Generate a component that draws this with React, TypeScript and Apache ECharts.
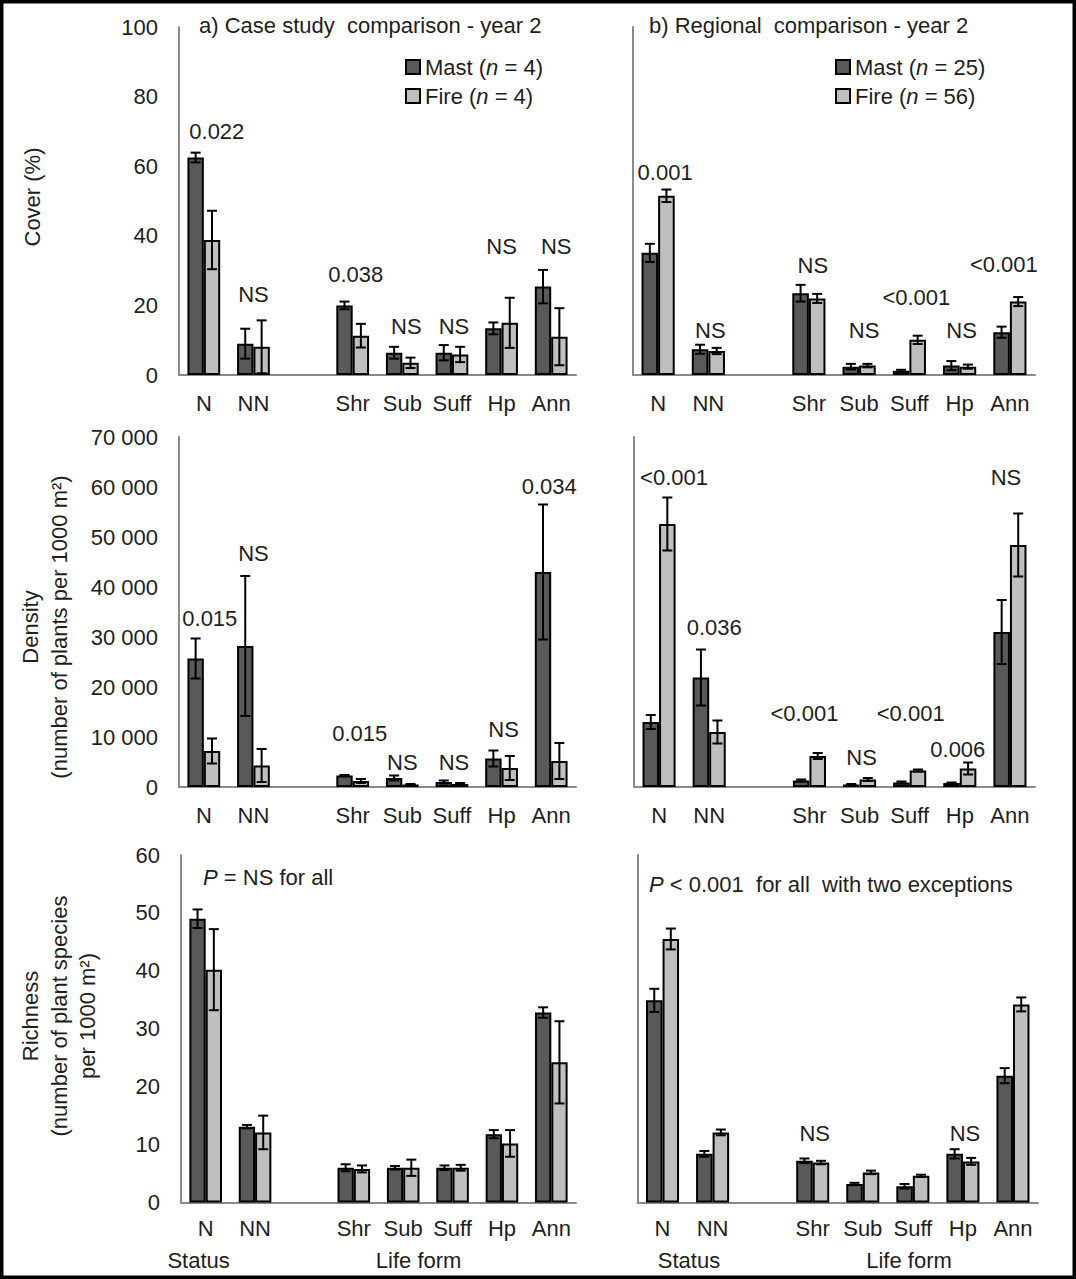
import React, { useEffect, useRef } from 'react';
import * as echarts from 'echarts';

const FONT = '"Liberation Sans", Arial, Helvetica, sans-serif';
const TEXT = '#1e1e1e';
const AXIS = '#8a8a8a';
const MAST_COLOR = '#595959';
const FIRE_COLOR = '#bfbfbf';

// ---------- data ----------
const categories = ['N', 'NN', '', 'Shr', 'Sub', 'Suff', 'Hp', 'Ann'];

// Cover (%) – case study
const coverCaseMast = [62.5, 9.0, null, 20.0, 6.4, 6.4, 13.4, 25.4];
const coverCaseMastSE = [1.4, 4.3, null, 1.1, 1.7, 2.2, 1.7, 4.8];
const coverCaseFire = [38.8, 8.1, null, 11.3, 3.5, 5.9, 15.0, 11.0];
const coverCaseFireSE = [8.4, 7.6, null, 3.4, 1.5, 2.2, 7.2, 8.2];
const coverCaseP = ['0.022', 'NS', null, '0.038', 'NS', 'NS', 'NS', 'NS'];
const coverCasePY = [70.1, 23.0, null, 29.0, 13.8, 13.8, 36.8, 36.8];

// Cover (%) – regional
const coverRegMast = [35.1, 7.4, null, 23.5, 2.4, 1.2, 2.7, 12.3];
const coverRegMastSE = [2.6, 1.3, null, 2.4, 0.8, 0.3, 1.3, 1.6];
const coverRegFire = [51.5, 6.9, null, 22.0, 2.7, 10.1, 2.4, 21.1];
const coverRegFireSE = [1.8, 0.9, null, 1.3, 0.5, 1.2, 0.6, 1.3];
const coverRegP = ['0.001', 'NS', null, 'NS', 'NS', '<0.001', 'NS', '<0.001'];
const coverRegPY = [58.1, 12.9, null, 31.6, 12.9, 22.2, 12.9, 31.8];

// Density – case study
const densCaseMast = [25700, 28200, null, 2300, 1800, 1000, 5700, 43000];
const densCaseMastSE = [4000, 14000, null, 100, 500, 300, 1600, 13500];
const densCaseFire = [7200, 4300, null, 1200, 500, 600, 3800, 5200];
const densCaseFireSE = [2500, 3300, null, 400, 100, 200, 2400, 3600];
const densCaseP = ['0.015', 'NS', null, '0.015', 'NS', 'NS', 'NS', '0.034'];
const densCasePY = [33800, 46700, null, 10700, 5000, 5000, 11500, 60200];

// Density – regional
const densRegMast = [13000, 21900, null, 1300, 500, 900, 800, 31000];
const densRegMastSE = [1400, 5600, null, 200, 100, 200, 100, 6400];
const densRegFire = [52600, 11000, null, 6200, 1500, 3300, 3700, 48400];
const densRegFireSE = [5300, 2300, null, 600, 300, 200, 1200, 6300];
const densRegP = ['<0.001', '0.036', null, '<0.001', 'NS', '<0.001', '0.006', 'NS'];
const densRegPY = [62000, 31900, null, 14700, 5900, 14700, 7500, 61900];

// Richness – case study
const richCaseMast = [49.0, 13.1, null, 6.0, 6.0, 6.0, 11.8, 32.8];
const richCaseMastSE = [1.6, 0.3, null, 0.6, 0.3, 0.4, 0.7, 0.9];
const richCaseFire = [40.2, 12.1, null, 5.8, 6.0, 6.0, 10.2, 24.2];
const richCaseFireSE = [7.0, 2.9, null, 0.6, 1.4, 0.5, 2.3, 7.1];
const richCaseP = [null, null, null, null, null, null, null, null];
const richCasePY = [null, null, null, null, null, null, null, null];

// Richness – regional
const richRegMast = [34.9, 8.4, null, 7.2, 3.2, 2.8, 8.4, 21.9];
const richRegMastSE = [2.0, 0.5, null, 0.4, 0.2, 0.4, 0.8, 1.3];
const richRegFire = [45.5, 12.1, null, 6.9, 5.2, 4.6, 7.1, 34.2];
const richRegFireSE = [1.8, 0.5, null, 0.3, 0.3, 0.2, 0.6, 1.2];
const richRegP = [null, null, null, 'NS', null, null, 'NS', null];
const richRegPY = [null, null, null, 12.0, null, null, 12.0, null];

// y-axis scales
const coverTicks = { max: 100, interval: 20 };
const densTicks = { max: 70000, interval: 10000 };
const richTicks = { max: 60, interval: 10 };

// ---------- layout / styling (pixels) ----------
const panelLayout = [
  { left: 179, top: 27, width: 397, height: 348, labels: true, margin: 17, nudge: [13, 0, 0, 3, 4, 2, 0, 5] },
  { left: 633, top: 27, width: 402, height: 348, labels: false, margin: 17, nudge: [7, 2, 0, 4, 5, 7, 2, -6] },
  { left: 179, top: 437, width: 397, height: 350, labels: true, margin: 17, nudge: [6, 0, 0, 7, 0, 2, 2, -2] },
  { left: 634, top: 437, width: 401, height: 350, labels: false, margin: 17, nudge: [15, 5, 0, -5, 2, 1, -2, -4] },
  { left: 181, top: 855, width: 395, height: 347.5, labels: true, margin: 15, nudge: [0, 0, 0, 0, 0, 0, 0, 0] },
  { left: 637.5, top: 855, width: 400.5, height: 347.5, labels: false, margin: 15, nudge: [0, 0, 0, 2, 0, 0, 2, 0] },
];

const panelData = [
  { m: coverCaseMast, ms: coverCaseMastSE, f: coverCaseFire, fs: coverCaseFireSE, p: coverCaseP, py: coverCasePY, ticks: coverTicks },
  { m: coverRegMast, ms: coverRegMastSE, f: coverRegFire, fs: coverRegFireSE, p: coverRegP, py: coverRegPY, ticks: coverTicks },
  { m: densCaseMast, ms: densCaseMastSE, f: densCaseFire, fs: densCaseFireSE, p: densCaseP, py: densCasePY, ticks: densTicks },
  { m: densRegMast, ms: densRegMastSE, f: densRegFire, fs: densRegFireSE, p: densRegP, py: densRegPY, ticks: densTicks },
  { m: richCaseMast, ms: richCaseMastSE, f: richCaseFire, fs: richCaseFireSE, p: richCaseP, py: richCasePY, ticks: richTicks },
  { m: richRegMast, ms: richRegMastSE, f: richRegFire, fs: richRegFireSE, p: richRegP, py: richRegPY, ticks: richTicks },
];

const CAT_GAP = 0.34;

function fmtTick(v: number, max: number) {
  if (max > 1000) {
    if (v === 0) return '0';
    return String(v / 1000) + ' 000';
  }
  return String(v);
}

function errorRenderItem(params: any, api: any) {
  const i = api.value(0);
  const catW = api.size([1, 0])[0];
  const off = (catW * (1 - CAT_GAP)) / 4;
  const cap = 5;
  const children: any[] = [];
  const groups = [
    [1, 2, -1],
    [3, 4, 1],
  ];
  for (const [mi, si, dir] of groups) {
    const m = api.value(mi);
    const s = api.value(si);
    if (isNaN(m) || isNaN(s)) continue;
    const top = api.coord([i, m + s]);
    const bot = api.coord([i, Math.max(0, m - s)]);
    const x = top[0] + dir * off;
    const st = { stroke: '#000', lineWidth: 2 };
    children.push({ type: 'line', shape: { x1: x, y1: top[1], x2: x, y2: bot[1] }, style: st });
    children.push({ type: 'line', shape: { x1: x - cap, y1: top[1], x2: x + cap, y2: top[1] }, style: st });
    children.push({ type: 'line', shape: { x1: x - cap, y1: bot[1], x2: x + cap, y2: bot[1] }, style: st });
  }
  return { type: 'group', children };
}

function buildOption() {
  const grid: any[] = [];
  const xAxis: any[] = [];
  const yAxis: any[] = [];
  const series: any[] = [];

  panelData.forEach((d, k) => {
    const L = panelLayout[k];
    grid.push({ left: L.left, top: L.top, width: L.width, height: L.height, containLabel: false });
    xAxis.push({
      type: 'category',
      gridIndex: k,
      data: categories,
      axisTick: { show: false },
      axisLine: { show: true, lineStyle: { color: AXIS, width: 2 } },
      axisLabel: { interval: 0, fontSize: 22, fontFamily: FONT, color: TEXT, margin: L.margin },
      splitLine: { show: false },
    });
    yAxis.push({
      type: 'value',
      gridIndex: k,
      min: 0,
      max: d.ticks.max,
      interval: d.ticks.interval,
      splitLine: { show: false },
      axisTick: { show: false },
      axisLine: { show: true, lineStyle: { color: AXIS, width: 2 } },
      axisLabel: {
        show: L.labels,
        fontSize: 22,
        fontFamily: FONT,
        color: TEXT,
        margin: 21,
        formatter: (v: number) => fmtTick(v, d.ticks.max),
      },
    });
    const common = {
      type: 'bar',
      xAxisIndex: k,
      yAxisIndex: k,
      barGap: '0%',
      barCategoryGap: CAT_GAP * 100 + '%',
      silent: true,
    };
    series.push({
      ...common,
      name: 'Mast',
      data: d.m.map((v) => (v == null ? '-' : v)),
      itemStyle: { color: MAST_COLOR, borderColor: '#000', borderWidth: 2 },
    });
    series.push({
      ...common,
      name: 'Fire',
      data: d.f.map((v) => (v == null ? '-' : v)),
      itemStyle: { color: FIRE_COLOR, borderColor: '#000', borderWidth: 2 },
    });
    const errData: any[] = [];
    categories.forEach((c, i) => {
      if (d.m[i] == null) return;
      errData.push([i, d.m[i], d.ms[i], d.f[i], d.fs[i]]);
    });
    series.push({
      type: 'custom',
      xAxisIndex: k,
      yAxisIndex: k,
      silent: true,
      z: 10,
      renderItem: errorRenderItem,
      encode: { x: 0, y: [1, 3] },
      data: errData,
    });
    const pData: any[] = [];
    const pText: string[] = [];
    categories.forEach((c, i) => {
      if (d.p[i] == null || d.py[i] == null) return;
      pData.push([i, d.py[i], L.nudge[i]]);
      pText.push(d.p[i] as string);
    });
    if (pData.length) {
      series.push({
        type: 'custom',
        xAxisIndex: k,
        yAxisIndex: k,
        silent: true,
        z: 11,
        encode: { x: 0, y: 1 },
        data: pData,
        renderItem: (params: any, api: any) => {
          const pt = api.coord([api.value(0), api.value(1)]);
          return {
            type: 'text',
            x: pt[0] + api.value(2),
            y: pt[1],
            style: {
              text: pText[params.dataIndex],
              fill: TEXT,
              fontSize: 22,
              fontFamily: FONT,
              align: 'center',
              verticalAlign: 'middle',
            },
          };
        },
      });
    }
  });

  const txt = (x: number, y: number, text: string, extra: any = {}, rotation = 0) => ({
    type: 'text',
    x,
    y,
    rotation,
    silent: true,
    style: {
      text,
      fill: TEXT,
      fontSize: 22,
      fontFamily: FONT,
      align: 'left',
      verticalAlign: 'middle',
      ...extra,
    },
  });

  const richI = {
    i: { fontStyle: 'italic', fontSize: 22, fontFamily: FONT, fill: TEXT },
  };

  const graphic: any[] = [
    {
      type: 'rect',
      silent: true,
      shape: { x: 1.75, y: 1.75, width: 1072.5, height: 1275.5 },
      style: { fill: 'none', stroke: '#000', lineWidth: 3.5 },
      z: 100,
    },
    txt(199, 25, 'a) Case study\u00a0 comparison - year 2'),
    txt(649, 25, 'b) Regional\u00a0 comparison - year 2'),
    txt(32.5, 197, 'Cover (%)', { align: 'center' }, Math.PI / 2),
    txt(44.5, 627, 'Density\n(number of plants per 1000 m²)', { align: 'center', lineHeight: 29 }, Math.PI / 2),
    txt(59, 1016, 'Richness\n(number of plant species\nper 1000 m²)', { align: 'center', lineHeight: 28.5 }, Math.PI / 2),
    txt(203, 877, '{i|P} = NS for all', { rich: richI }),
    txt(649, 884, '{i|P} < 0.001\u00a0 for all\u00a0 with two exceptions', { rich: richI }),
    txt(198.6, 1260, 'Status', { align: 'center' }),
    txt(418.6, 1260, 'Life form', { align: 'center' }),
    txt(689, 1260, 'Status', { align: 'center' }),
    txt(909, 1260, 'Life form', { align: 'center' }),
  ];

  const legendCommon = {
    orient: 'vertical',
    icon: 'rect',
    itemWidth: 14,
    itemHeight: 14,
    itemGap: 7,
    selectedMode: false,
    data: ['Mast', 'Fire'],
    itemStyle: { borderColor: '#000', borderWidth: 2 },
    textStyle: {
      fontSize: 22,
      fontFamily: FONT,
      color: TEXT,
      rich: { i: { fontStyle: 'italic', fontSize: 22, fontFamily: FONT, color: TEXT } },
    },
  };

  return {
    animation: false,
    backgroundColor: '#ffffff',
    textStyle: { fontFamily: FONT },
    grid,
    xAxis,
    yAxis,
    series,
    graphic,
    legend: [
      {
        ...legendCommon,
        left: 400,
        top: 51,
        formatter: (n: string) => (n === 'Mast' ? 'Mast ({i|n} = 4)' : 'Fire ({i|n} = 4)'),
      },
      {
        ...legendCommon,
        left: 830,
        top: 51,
        formatter: (n: string) => (n === 'Mast' ? 'Mast ({i|n} = 25)' : 'Fire ({i|n} = 56)'),
      },
    ],
  };
}

export default function App() {
  const ref = useRef<HTMLDivElement>(null);
  useEffect(() => {
    if (!ref.current) return;
    const chart = echarts.init(ref.current, undefined, { renderer: 'svg' });
    chart.setOption(buildOption() as any);
    return () => chart.dispose();
  }, []);
  return (
    <div
      ref={ref}
      style={{ position: 'absolute', left: 0, top: 0, width: 1076, height: 1279, background: '#fff' }}
    />
  );
}
